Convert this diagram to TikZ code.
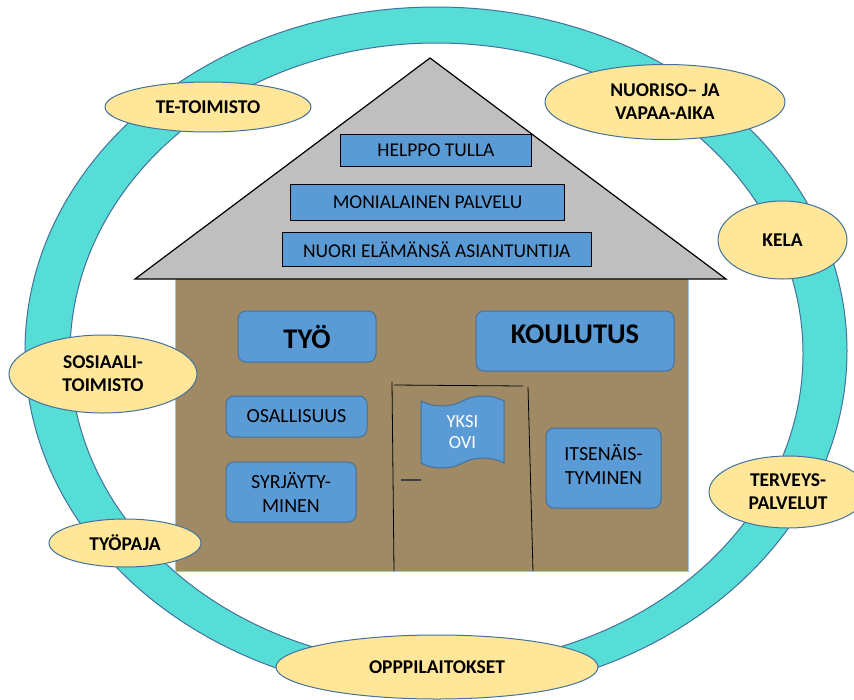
\documentclass[tikz,border=0pt]{standalone}
\usepackage{fontspec}
\setmainfont{Carlito}
\usetikzlibrary{shapes.geometric,shapes.symbols}
\definecolor{ttddcc}{rgb}{0.333,0.867,0.839}
\definecolor{qqccff}{rgb}{0.255,0.443,0.612}
\definecolor{ffeebb}{rgb}{1,0.902,0.6}
\definecolor{ddbbff}{rgb}{0.357,0.608,0.835}
\definecolor{ccbbaa}{rgb}{0.627,0.541,0.4}
\definecolor{bbbbbb}{rgb}{0.749,0.749,0.749}
\definecolor{ddeeff}{rgb}{0.616,0.765,0.902}
\definecolor{qqqqqq}{rgb}{0.25,0.25,0.25}

\begin{document}
\begin{tikzpicture}[x=1pt,y=-1pt,
  oval/.style={ellipse,draw=qqccff,fill=ffeebb,line width=1pt,inner sep=0pt,align=center,font=\bfseries\fontsize{19.5}{23}\selectfont},
  roofbox/.style={rectangle,draw=black,fill=ddbbff,line width=1.4pt,inner sep=0pt,font=\fontsize{19.5}{22}\selectfont},
  wallbox/.style={rectangle,rounded corners=8pt,draw=qqccff,fill=ddbbff,line width=1pt,inner sep=0pt,align=center,font=\fontsize{20}{24}\selectfont}]
\useasboundingbox (0,0) rectangle (854,699);
% ring
\draw [draw=qqccff,fill=ttddcc,line width=1pt,even odd rule] (436,351) ellipse [x radius=411, y radius=344] (436.5,354) ellipse [x radius=366.5, y radius=311];
% house
\draw [draw=ddeeff,fill=ccbbaa,line width=1pt] (175,279) -- (175,571) -- (688,571) -- (688,279);
\draw [draw=black,fill=bbbbbb,line width=1.2pt] (135,279) -- (430,58) -- (726,279) -- cycle;
% door
\draw [line width=0.8pt] (392,382) -- (394,571);
\draw [line width=0.8pt] (394,385) -- (523,386);
\draw [line width=0.8pt] (528,387) -- (533,571);
\draw [line width=1.5pt,color=qqqqqq] (401,480) -- (421,480);
% roof
\node [roofbox,minimum width=191pt,minimum height=32pt] (helppo) at (436,150.5) {HELPPO TULLA};
\node [roofbox,minimum width=274pt,minimum height=36pt] (moni) at (427.5,202.5) {MONIALAINEN PALVELU};
\node [roofbox,minimum width=309pt,minimum height=34pt] (nuori) at (436.7,249.7) {NUORI ELÄMÄNSÄ ASIANTUNTIJA};
% wall
\node [wallbox,minimum width=138pt,minimum height=51pt,font=\bfseries\fontsize{28.5}{30}\selectfont] (tyo) at (307,336.5) {TYÖ};
\node [wallbox,text width=198pt,text height=25pt,text depth=21pt,inner ysep=7pt,font=\bfseries\fontsize{28.5}{30}\selectfont] (koulutus) at (575,341) {KOULUTUS};
\node [wallbox,minimum width=141pt,minimum height=41pt] (osallisuus) at (296.5,416.5) {OSALLISUUS};
\node [wallbox,minimum width=130pt,minimum height=60pt] (syrjaytyminen) at (291,492) {SYRJÄYTY-\\MINEN};
\node [wallbox,minimum width=115pt,minimum height=80pt] (itsenaistyminen) at (603.5,468) {\raisebox{6pt}{\begin{tabular}{@{}c@{}}ITSENÄIS-\\TYMINEN\end{tabular}}};
\node [tape,draw=qqccff,fill=ddbbff,line width=1pt,minimum width=83pt,minimum height=72pt,tape bend height=10pt,inner sep=0pt,align=center,text=white,font=\fontsize{18.5}{21.5}\selectfont] (ovi) at (462.5,432) {YKSI\\OVI};
% ovals
\node [oval,minimum width=206pt,minimum height=50pt] (tetoimisto) at (208,107) {TE-TOIMISTO};
\node [oval,minimum width=240pt,minimum height=75pt] (nuoriso) at (665,102) {NUORISO– JA\\VAPAA-AIKA};
\node [oval,minimum width=129pt,minimum height=78pt] (kela) at (782.5,240) {KELA};
\node [oval,minimum width=188pt,minimum height=78pt] (sosiaali) at (103,374) {SOSIAALI-\\TOIMISTO};
\node [oval,minimum width=158pt,minimum height=72pt] (terveys) at (788,492) {TERVEYS-\\PALVELUT};
\node [oval,minimum width=152pt,minimum height=48pt] (tyopaja) at (125,543) {TYÖPAJA};
\node [oval,minimum width=322pt,minimum height=64pt] (oppilaitokset) at (437,667) {OPPPILAITOKSET};
\end{tikzpicture}
\end{document}
